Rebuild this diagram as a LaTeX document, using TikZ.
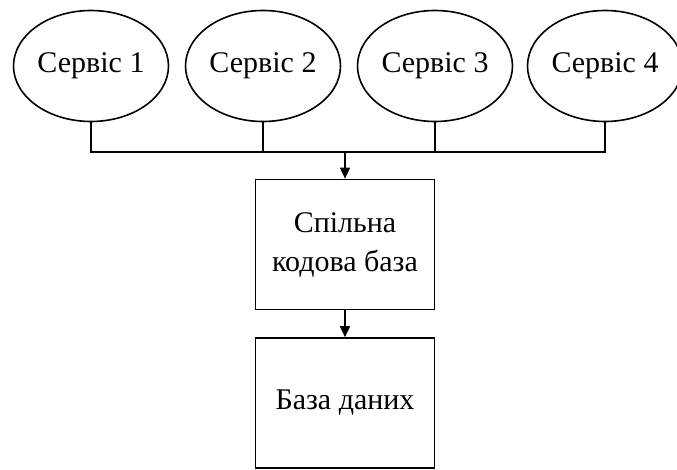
\documentclass[tikz,border=0pt]{standalone}
\usepackage{fontspec}
\setmainfont{Liberation Serif}
\usetikzlibrary{shapes.geometric,arrows.meta}
\begin{document}
\begin{tikzpicture}[x=1pt,y=-1pt,
  every node/.style={font=\fontsize{30}{39}\selectfont},
  service/.style={ellipse,draw,line width=1.6pt,minimum width=155pt,minimum height=111pt,inner sep=0pt},
  block/.style={rectangle,draw,line width=1.6pt,minimum width=179pt,minimum height=130pt,align=center,inner sep=0pt},
  link/.style={line width=1.6pt},
  flow/.style={line width=1.6pt,-{Triangle[length=11pt,width=10pt]}}]
\useasboundingbox (0,0) rectangle (677,470);
% four services in a row
\node[service] (s1) at (91,66) {Сервіс 1};
\node[service] (s2) at (263,66) {Сервіс 2};
\node[service] (s3) at (435,66) {Сервіс 3};
\node[service] (s4) at (605,66) {Сервіс 4};
% shared code base and database
\node[block] (code) at (345,244.5) {Спільна\\кодова база};
\node[block] (db) at (345,403) {База даних};
% collecting bus under the services
\coordinate (bus) at (345,152);
\draw[link] (s1.south) |- (bus) -| (s4.south);
\draw[link] (s2.south) -- (s2.south |- bus);
\draw[link] (s3.south) -- (s3.south |- bus);
\draw[flow] (bus) -- (code.north);
\draw[flow] (code.south) -- (db.north);
\end{tikzpicture}
\end{document}
